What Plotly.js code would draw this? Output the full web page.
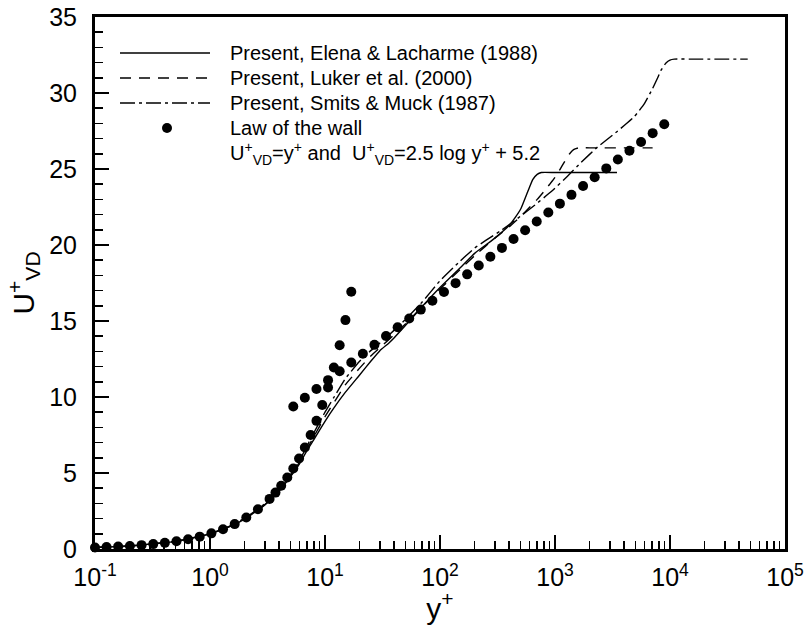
<!DOCTYPE html>
<html>
<head>
<meta charset="utf-8">
<script src="https://cdn.plot.ly/plotly-3.0.1.min.js"></script>
<style>html,body{margin:0;padding:0;background:#fff;}#chart{width:805px;height:625px;}</style>
</head>
<body>
<div id="chart"></div>
<script>
// ---- data ----
const elenaYp = [0.1,0.2,0.5,1,1.5,2,3,4,5,6,7,8,10,12,15,20,25,30,36,40,50,70,100,150,200,250,300,340,400,450,506,579,640,700,760,1000,2000,3460];
const elenaU  = [0.1,0.2,0.5,1.0,1.49,1.97,2.9,3.82,4.75,5.6,6.5,7.2,8.4,9.3,10.3,11.45,12.35,13.05,13.56,13.9,14.7,15.95,17.2,18.5,19.45,20.0,20.45,20.8,21.3,21.8,22.4,23.5,24.3,24.65,24.77,24.77,24.77,24.77];

const lukerYp = [0.1,0.2,0.5,1,1.5,2,3,4,5,6,7,8,10,12,15,20,25,30,40,50,70,100,150,200,300,400,506,596,700,807,900,1000,1100,1205,1330,1450,1600,2000,4000,7060];
const lukerU  = [0.1,0.2,0.5,1.0,1.5,1.98,2.93,3.86,4.8,5.7,6.6,7.4,8.7,9.65,10.8,11.9,12.7,13.25,14.1,14.8,15.95,17.1,18.4,19.3,20.45,21.2,21.9,22.45,23.0,23.55,24.0,24.45,24.95,25.45,25.97,26.28,26.39,26.39,26.39,26.39];

const smitsYp = [0.1,0.2,0.5,1,1.5,2,3,4,5,6,7,8,10,12,15,20,25,30,40,50,70,100,150,200,250,339,473,661,923,1290,1683,2350,3510,4900,5990,7060,7816,8356,9230,10000,10900,15000,47400];
const smitsU  = [0.1,0.2,0.5,1.0,1.52,2.02,2.98,3.92,4.88,5.82,6.8,7.65,9.0,10.0,11.2,12.35,13.05,13.55,14.4,15.1,16.25,17.65,18.95,19.8,20.3,20.95,21.75,22.6,23.5,24.54,25.43,26.45,27.5,28.45,29.3,30.3,31.0,31.5,31.98,32.17,32.23,32.23,32.23];

// law of the wall points (viscous sublayer branch)
const viscYp = [0.100,0.126,0.159,0.201,0.254,0.321,0.405,0.511,0.645,0.814,1.028,1.298,1.639,2.068,2.611,3.296,3.71,4.16,4.70,5.30,5.95,6.68,7.50,8.43,9.47,10.63,11.94,13.41,15.06,16.92];
const viscU  = [0.100,0.126,0.159,0.201,0.254,0.321,0.405,0.511,0.645,0.814,1.028,1.298,1.639,2.068,2.611,3.296,3.71,4.16,4.70,5.30,5.95,6.68,7.50,8.43,9.47,10.63,11.94,13.41,15.06,16.92];
// law of the wall points (log-law branch)
const logYp = [5.30,6.68,8.43,10.63,13.41,16.92,21.34,26.91,33.94,42.81,54.0,68.1,85.9,108.3,136.6,172.3,217.3,274.1,345.7,436.0,549.9,693.6,874.8,1103,1391,1755,2213,2792,3521,4441,5602,7066,8912];
const logU  = [9.37,9.95,10.53,11.11,11.69,12.27,12.85,13.43,14.01,14.59,15.17,15.75,16.33,16.91,17.49,18.07,18.65,19.23,19.81,20.39,20.97,21.55,22.14,22.72,23.30,23.88,24.46,25.04,25.62,26.20,26.78,27.36,27.94];

const xTickVals = [0.1,1,10,100,1000,10000,100000];
const xTickText = ['10<sup>-1</sup>','10<sup>0</sup>','10<sup>1</sup>','10<sup>2</sup>','10<sup>3</sup>','10<sup>4</sup>','10<sup>5</sup>'];
const legendNames = ['Present, Elena &amp; Lacharme (1988)','Present, Luker et al. (2000)','Present, Smits &amp; Muck (1987)','Law of the wall','U<sup>+</sup><sub>VD</sub>=y<sup>+</sup> and  U<sup>+</sup><sub>VD</sub>=2.5 log y<sup>+</sup> + 5.2'];

// ---- styling ----
const FONT = 'Liberation Sans, Arial, Helvetica, sans-serif';
const lineW = 1.4;
const dashStyle = '11px,8px';
const dashDotStyle = '15px,4px,3px,4px';

const minorX = [];
for (let e = -1; e < 5; e++) for (let m = 2; m <= 9; m++) minorX.push(m * Math.pow(10, e));

const traces = [
  {x: elenaYp, y: elenaU, mode:'lines', line:{color:'#000', width:lineW, shape:'spline', smoothing:0.4}, cliponaxis:false},
  {x: lukerYp, y: lukerU, mode:'lines', line:{color:'#000', width:lineW, dash:dashStyle, shape:'spline', smoothing:0.4}, cliponaxis:false},
  {x: smitsYp, y: smitsU, mode:'lines', line:{color:'#000', width:lineW, dash:dashDotStyle, shape:'spline', smoothing:0.4}, cliponaxis:false},
  {x: viscYp, y: viscU, mode:'markers', marker:{color:'#000', size:10}, cliponaxis:false},
  {x: logYp, y: logU, mode:'markers', marker:{color:'#000', size:10}, cliponaxis:false}
];

// legend built with paper-referenced shapes and annotations
const L = 95, W = 690, T = 17, H = 532;
const px2x = p => (p - L) / W;
const py2y = p => (T + H - p) / H;
const rows = [53, 78, 103, 128, 153];
const shapes = [];
const dashes = ['solid', dashStyle, dashDotStyle];
for (let i = 0; i < 3; i++) {
  shapes.push({type:'line', xref:'paper', yref:'paper', x0:px2x(120), x1:px2x(210), y0:py2y(rows[i]), y1:py2y(rows[i]), line:{color:'#000', width:1.5, dash:dashes[i]}});
}
shapes.push({type:'circle', xref:'paper', yref:'paper', xsizemode:'pixel', ysizemode:'pixel', xanchor:px2x(167), yanchor:py2y(rows[3]), x0:-5, x1:5, y0:-5, y1:5, fillcolor:'#000', line:{color:'#000', width:0}});

const annotations = legendNames.map((t, i) => ({
  xref:'paper', yref:'paper', x:px2x(228), y:py2y(rows[i]), xanchor:'left', yanchor:'middle',
  text:t, showarrow:false, font:{family:FONT, size:20, color:'#000'}
}));

const layout = {
  width:805, height:625,
  margin:{l:L, r:805-L-W, t:T, b:625-T-H},
  paper_bgcolor:'#fff', plot_bgcolor:'#fff',
  showlegend:false,
  font:{family:FONT, color:'#000'},
  xaxis:{
    type:'log', range:[-1,5], tickmode:'array', tickvals:xTickVals, ticktext:xTickText,
    ticks:'inside', ticklen:14, tickwidth:2, tickcolor:'#000',
    showline:true, linewidth:3, linecolor:'#000', mirror:true,
    showgrid:false, zeroline:false,
    tickfont:{family:FONT, size:25, color:'#000'},
    ticklabelstandoff:4,
    minor:{tickmode:'array', tickvals:minorX, ticks:'inside', ticklen:8, tickwidth:1.5, tickcolor:'#000', showgrid:false},
    title:{text:'y<sup>+</sup>', font:{family:FONT, size:30, color:'#000'}, standoff:2}
  },
  yaxis:{
    range:[0,35], dtick:5, tick0:0,
    ticks:'inside', ticklen:14, tickwidth:2, tickcolor:'#000',
    showline:true, linewidth:3, linecolor:'#000', mirror:true,
    showgrid:false, zeroline:false,
    tickfont:{family:FONT, size:25, color:'#000'},
    ticklabelstandoff:10,
    minor:{dtick:1, ticks:'inside', ticklen:8, tickwidth:1.5, tickcolor:'#000', showgrid:false},
    title:{text:'U<sup>+</sup><sub>VD</sub>', font:{family:FONT, size:30, color:'#000'}, standoff:6}
  },
  shapes:shapes,
  annotations:annotations
};

Plotly.newPlot('chart', traces, layout, {staticPlot:true, displayModeBar:false});
</script>
</body>
</html>
